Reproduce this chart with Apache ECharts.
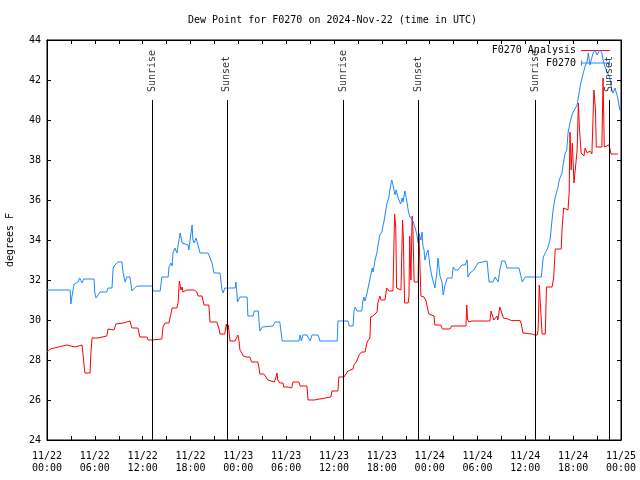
<!DOCTYPE html>
<html><head><meta charset="utf-8">
<script src="https://cdn.jsdelivr.net/npm/echarts@6/dist/echarts.min.js"></script>
<style>html,body{margin:0;padding:0;background:#fff}#c{width:640px;height:480px}</style>
</head><body><div id="c"></div>
<script>
// hours since 2024-11-22 00:00 UTC, dew point in °F
const f0270 = [[0.0,31.5],[2.9,31.5],[3.0,30.8],[3.1,31.1],[3.4,31.8],[3.9,31.9],[4.1,32.1],[4.4,31.85],[4.6,32.05],[5.9,32.05],[6.0,31.35],[6.15,31.1],[6.4,31.2],[6.65,31.4],[7.5,31.4],[7.65,31.6],[8.15,31.6],[8.3,32.6],[8.5,32.75],[8.9,32.9],[9.4,32.9],[9.55,32.35],[9.8,31.9],[10.0,32.15],[10.4,32.15],[10.55,31.75],[10.65,31.45],[11.0,31.6],[11.3,31.7],[13.2,31.7],[13.3,31.45],[14.2,31.45],[14.4,32.15],[15.2,32.15],[15.3,32.65],[15.55,32.85],[15.7,32.7],[15.8,33.35],[16.05,33.6],[16.3,33.35],[16.45,33.75],[16.7,34.35],[16.95,33.85],[17.05,33.75],[17.7,33.75],[17.8,33.5],[17.95,34.0],[18.2,34.75],[18.3,34.0],[18.45,33.85],[18.7,34.1],[18.95,34.0],[19.2,33.35],[20.2,33.35],[20.45,33.1],[20.7,32.85],[20.95,32.35],[21.7,32.35],[21.95,31.5],[22.1,31.35],[22.3,31.6],[23.6,31.6],[23.7,31.9],[23.9,30.9],[24.2,31.15],[25.1,31.15],[25.2,30.2],[25.85,30.2],[26.0,30.45],[26.5,30.45],[26.7,29.45],[27.0,29.65],[27.2,29.7],[28.35,29.7],[28.6,29.9],[29.2,29.9],[29.5,28.95],[31.6,28.95],[31.75,29.25],[31.9,28.95],[32.1,29.25],[32.6,29.25],[33.0,28.95],[33.25,29.25],[34.0,29.25],[34.25,28.95],[36.4,28.95],[36.5,29.95],[37.75,29.95],[37.9,29.7],[38.4,29.7],[38.5,30.45],[38.65,30.65],[38.9,30.45],[39.5,30.45],[39.6,30.9],[39.75,31.15],[39.9,30.95],[40.15,31.35],[40.25,31.55],[40.5,32.05],[40.8,32.6],[40.9,32.4],[41.15,33.0],[41.4,33.4],[41.5,33.7],[41.75,34.25],[42.0,34.4],[42.15,34.3],[42.3,35.0],[42.5,35.5],[42.65,35.85],[42.9,36.15],[43.0,36.5],[43.25,37.0],[43.4,36.75],[43.5,36.8],[43.65,36.25],[43.8,36.5],[43.9,36.4],[44.05,36.1],[44.15,36.0],[44.35,35.8],[44.55,36.1],[44.65,35.9],[44.9,36.45],[45.15,35.9],[45.3,35.5],[45.5,35.15],[45.8,35.05],[45.9,35.15],[46.15,34.65],[46.4,34.25],[46.55,33.85],[46.65,34.35],[46.9,34.0],[47.05,34.4],[47.15,33.7],[47.3,33.5],[47.4,33.0],[47.65,33.35],[47.8,33.5],[48.05,32.65],[48.3,32.15],[48.4,32.0],[48.65,31.6],[48.9,32.35],[49.05,33.1],[49.3,32.2],[49.55,31.9],[49.7,31.25],[49.9,31.7],[50.2,32.1],[50.8,32.1],[50.95,32.65],[51.2,32.5],[51.55,32.5],[51.8,32.55],[52.05,32.75],[52.45,32.75],[52.7,33.0],[52.8,32.15],[53.05,32.35],[53.3,32.35],[53.55,32.5],[53.8,32.6],[54.05,32.85],[54.2,32.95],[55.2,32.95],[55.45,31.9],[55.95,31.9],[56.2,32.15],[56.45,32.05],[56.6,31.9],[56.8,32.5],[57.05,32.95],[57.45,32.95],[57.7,32.6],[59.2,32.6],[59.45,32.2],[59.6,31.9],[59.85,31.9],[60.0,32.15],[62.0,32.15],[62.25,33.15],[62.45,33.25],[62.7,33.5],[62.85,33.65],[63.1,34.0],[63.35,35.0],[63.5,35.55],[63.75,36.15],[64.0,36.2],[64.1,36.65],[64.25,37.0],[64.35,36.9],[64.6,37.35],[64.75,37.8],[65.0,38.35],[65.2,38.5],[65.35,39.35],[65.6,39.85],[65.85,40.25],[66.0,40.4],[66.25,40.5],[66.5,40.75],[66.65,40.85],[66.9,41.75],[67.15,41.65],[67.3,42.4],[67.55,42.75],[67.75,42.9],[67.9,43.35],[68.1,42.75],[68.35,42.7],[68.5,43.35],[68.75,43.5],[69.0,43.25],[69.1,43.35],[69.35,43.5],[69.6,43.35],[69.75,43.0],[70.0,42.65],[70.25,42.4],[70.35,42.35],[70.6,42.1],[70.85,41.5],[71.0,41.35],[71.25,41.6],[71.5,41.6],[71.6,41.1],[71.85,40.5]];

const analysis = [[0.0,28.4],[0.1,28.4],[0.4,28.55],[0.55,28.65],[1.4,28.65],[1.65,28.75],[2.5,28.75],[2.65,28.65],[3.5,28.65],[3.65,28.75],[4.4,28.75],[4.65,27.75],[4.75,27.35],[5.4,27.35],[5.5,28.3],[5.65,29.1],[6.4,29.1],[6.65,29.2],[7.5,29.2],[7.65,29.55],[8.4,29.5],[8.65,29.8],[9.55,29.85],[9.65,29.95],[10.4,29.95],[10.65,29.6],[11.4,29.6],[11.65,29.15],[12.55,29.15],[12.7,29.0],[13.2,29.0],[13.3,29.05],[14.4,29.05],[14.55,29.65],[14.8,29.85],[15.3,29.85],[15.4,30.05],[15.7,30.6],[16.3,30.6],[16.45,30.9],[16.6,31.95],[16.8,31.5],[16.95,31.65],[17.05,31.4],[17.3,31.4],[17.55,31.5],[18.45,31.5],[18.55,31.4],[18.8,31.4],[18.95,31.2],[19.45,31.2],[19.7,30.75],[20.3,30.75],[20.45,29.9],[21.3,29.9],[21.55,29.6],[21.7,29.3],[22.3,29.3],[22.5,29.8],[22.65,29.4],[22.75,29.75],[22.95,28.95],[23.6,28.95],[23.75,29.1],[23.95,29.25],[24.1,28.9],[24.2,28.5],[24.45,28.35],[24.6,28.2],[24.95,28.15],[25.45,28.15],[25.65,27.9],[26.45,27.9],[26.6,27.6],[26.7,27.3],[27.2,27.3],[27.35,27.2],[27.7,27.0],[27.95,26.9],[28.5,26.9],[28.7,27.1],[28.85,27.35],[28.95,27.0],[29.2,26.85],[29.6,26.85],[29.7,26.65],[30.25,26.65],[30.5,26.7],[30.7,26.6],[30.85,26.9],[31.6,26.9],[31.75,26.7],[32.6,26.7],[32.75,26.0],[33.5,26.0],[33.6,26.1],[34.9,26.1],[35.6,26.15],[35.75,26.45],[36.5,26.45],[36.6,27.15],[37.25,27.15],[37.5,27.25],[37.75,27.45],[37.9,27.55],[38.4,27.55],[38.5,27.75],[38.8,27.9],[39.2,28.3],[39.5,28.4],[39.9,28.4],[40.15,28.9],[40.5,29.1],[40.6,30.15],[40.9,30.2],[41.15,30.3],[41.4,30.4],[41.5,30.85],[41.75,31.2],[41.9,31.0],[42.4,31.0],[42.6,31.6],[42.9,31.45],[43.4,31.45],[43.6,35.3],[43.75,34.6],[43.85,31.6],[44.0,31.5],[44.4,31.5],[44.6,35.0],[44.7,34.1],[44.85,30.85],[45.3,30.85],[45.4,31.2],[45.5,34.2],[45.65,32.0],[45.8,35.2],[45.9,34.5],[46.05,31.9],[46.55,31.9],[46.65,34.3],[46.8,32.5],[46.9,31.2],[47.3,31.15],[47.55,30.95],[47.7,30.65],[47.9,30.3],[48.15,30.2],[48.55,30.2],[48.65,29.75],[49.4,29.75],[49.6,29.55],[50.55,29.55],[50.75,29.7],[52.55,29.7],[52.65,30.75],[52.75,30.05],[52.9,29.9],[53.3,29.95],[55.55,29.95],[55.7,30.45],[55.95,30.5],[56.05,30.0],[56.3,29.95],[56.45,30.2],[56.55,30.0],[56.8,30.65],[57.05,30.6],[57.25,30.1],[57.8,30.05],[58.3,29.97],[59.35,29.97],[59.5,29.8],[59.7,29.35],[60.85,29.3],[61.2,29.25],[61.5,29.25],[61.6,29.5],[61.75,31.75],[62.0,31.75],[62.1,29.3],[62.5,29.3],[62.65,31.65],[63.35,31.65],[63.55,32.1],[63.75,33.55],[64.5,33.55],[64.6,34.5],[64.8,35.6],[65.35,35.5],[65.5,36.4],[65.6,39.4],[65.75,37.5],[65.9,38.85],[66.1,36.85],[66.35,36.8],[66.5,38.5],[66.65,40.85],[66.8,39.5],[67.0,38.35],[67.35,38.2],[67.5,38.6],[67.75,38.35],[68.0,38.3],[68.1,38.45],[68.35,38.3],[68.6,41.5],[68.8,40.5],[68.9,38.65],[69.6,38.65],[69.75,42.1],[69.9,38.65],[70.5,38.75],[70.75,38.3],[71.6,38.3]];

const sunHours = [13.2, 22.55, 37.17, 46.58, 61.3, 70.53];
const sunLabels = ['Sunrise', 'Sunset', 'Sunrise', 'Sunset', 'Sunrise', 'Sunset'];
const xTickLabels = ['11/22\n00:00','11/22\n06:00','11/22\n12:00','11/22\n18:00','11/23\n00:00','11/23\n06:00','11/23\n12:00','11/23\n18:00','11/24\n00:00','11/24\n06:00','11/24\n12:00','11/24\n18:00','11/25\n00:00'];
const yMin = 24, yMax = 44, yStep = 2;

const FONT = 'DejaVu Sans Mono';
const BLUE = '#1e88ff', RED = '#ff0000';
const txt = {fontFamily: FONT, fontSize: 10, color: '#000'};

const chart = echarts.init(document.getElementById('c'), null, {renderer: 'canvas'});
const tickStyle = {lineStyle: {color: '#000', width: 1}};
function xAx(pos, labels) {
  return {
    type: 'value', min: 0, max: 72, interval: 6, position: pos,
    axisLine: {show: true, onZero: false, lineStyle: {color: '#000', width: 1}},
    axisTick: Object.assign({show: true, inside: true, length: 4}, tickStyle),
    minorTick: Object.assign({show: true, splitNumber: 2, length: 4}, tickStyle),
    splitLine: {show: false}, minorSplitLine: {show: false},
    axisLabel: labels ? Object.assign({show: true, margin: 10, lineHeight: 12,
      formatter: v => xTickLabels[Math.round(v / 6)] || ''}, txt) : {show: false}
  };
}
function yAx(pos, labels) {
  const a = {
    type: 'value', min: yMin, max: yMax, interval: yStep, position: pos,
    axisLine: {show: true, onZero: false, lineStyle: {color: '#000', width: 1}},
    axisTick: Object.assign({show: true, inside: true, length: 4}, tickStyle),
    splitLine: {show: false},
    axisLabel: labels ? Object.assign({show: true, margin: 6}, txt) : {show: false}
  };
  if (labels) {
    a.name = 'degrees F'; a.nameLocation = 'middle'; a.nameGap = 32;
    a.nameTextStyle = Object.assign({}, txt);
  }
  return a;
}

chart.setOption({
  animation: false,
  backgroundColor: '#fff',
  title: {text: 'Dew Point for F0270 on 2024-Nov-22 (time in UTC)', left: 188, top: 15,
    padding: 0, textStyle: Object.assign({fontWeight: 'normal'}, txt)},
  grid: {left: 47, right: 19, top: 40, bottom: 40, show: true, borderColor: '#000', borderWidth: 1,
    backgroundColor: '#fff', containLabel: false, outerBoundsMode: 'none'},
  legend: [
    {data: [{name: 'F0270 Analysis', icon: 'path://M0,0h30v1h-30z'}], right: 30, top: 45.5, padding: 0,
     align: 'right', orient: 'vertical', itemWidth: 29, itemHeight: 1.2, textStyle: txt, itemStyle: {borderWidth: 0}, selectedMode: false},
    {data: [{name: 'F0270', icon: 'path://M0,0h1v5h-1zM28,0h1v5h-1zM0,2h29v1h-29z'}], right: 30, top: 58, padding: 0,
     align: 'right', orient: 'vertical', itemWidth: 29, itemHeight: 5, textStyle: txt, itemStyle: {borderWidth: 0}, selectedMode: false}
  ],
  xAxis: [xAx('bottom', true), xAx('top', false)],
  yAxis: [yAx('left', true), yAx('right', false)],
  series: [
    {type: 'line', name: 'F0270 Analysis', data: analysis, symbol: 'none', showSymbol: false,
     lineStyle: {color: RED, width: 1}, itemStyle: {color: RED}, z: 3},
    {type: 'line', name: 'F0270', data: f0270, symbol: 'none', showSymbol: false,
     lineStyle: {color: BLUE, width: 1}, itemStyle: {color: BLUE}, z: 4},
    {type: 'scatter', name: 'sun', symbolSize: 0, z: 5,
     itemStyle: {color: 'transparent'},
     data: sunHours.map((h, i) => ({value: [h, 41.4], name: sunLabels[i]})),
     label: Object.assign({show: true, position: 'inside', rotate: 90, align: 'left', verticalAlign: 'middle',
       formatter: p => p.name}, txt),
     markLine: {silent: true, symbol: ['none', 'none'], label: {show: false},
       lineStyle: {color: '#000', width: 1, type: 'solid'},
       data: sunHours.map(h => [{coord: [h, yMin]}, {coord: [h, 41.0]}])}
    }
  ]
});
</script></body></html>
